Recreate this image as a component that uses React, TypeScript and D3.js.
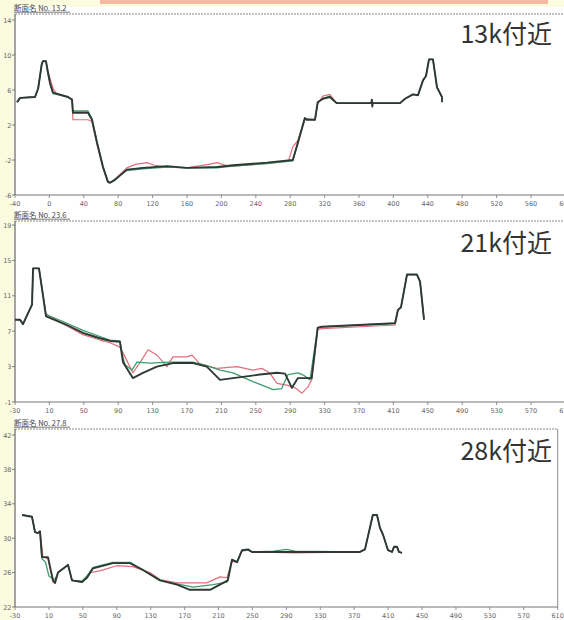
import React from 'react';
import * as d3 from 'd3';

type Pt = [number, number];

// ---------- Panel 1 : 13k ----------
const p1Header = '断面名 No.  13.2';
const p1Title = '13k付近';
const p1XTicks = [-40, 0, 40, 80, 120, 160, 200, 240, 280, 320, 360, 400, 440, 480, 520, 560, 600];
const p1YTicks = [-6, -2, 2, 6, 10, 14];
const p1Dark: Pt[] = [
  [-37.7, 4.6], [-34, 5.1], [-16.7, 5.2], [-13, 6.2], [-9, 8.9], [-7.5, 9.3], [-4, 9.3], [-2, 8.2], [0.7, 6.8], [4.2, 5.7],
  [21.6, 5.2], [26.3, 4.9], [27.4, 3.4], [44.9, 3.4], [49.5, 2.6], [55.3, 0], [62.3, -2.8], [68, -4.5],
  [70.5, -4.6], [76, -4.3], [90, -3.1], [108.8, -2.9], [136.7, -2.7], [160, -2.9], [194.9, -2.8],
  [213.5, -2.6], [253, -2.3], [283, -2.0], [288.8, -0.1], [297, 2.8], [299, 2.6], [308.8, 2.6],
  [312, 4.6], [318, 5.0], [326, 5.2], [334, 4.5], [374, 4.5], [375, 4.9], [375.5, 4.1], [376, 4.5],
  [407.7, 4.5], [413.5, 5.0], [422.8, 5.5], [428.6, 5.4], [434.4, 7.1], [437.9, 7.6], [441.4, 9.5],
  [446, 9.5], [450.7, 6.3], [456.5, 5.2], [456.5, 4.6],
];
const p1Green: Pt[] = [
  [-37.7, 4.6], [-34, 5.1], [-16.7, 5.2], [-13, 6.2], [-9, 8.9], [-7.5, 9.3], [-4, 9.3], [-2, 8.0], [1.5, 6.4], [4.2, 5.6],
  [21.6, 5.2], [26.3, 4.9], [27.4, 3.6], [44.9, 3.6], [49.5, 2.7], [55.3, 0.1], [62.3, -2.7], [68, -4.4],
  [70.5, -4.6], [76, -4.2], [90, -3.2], [108.8, -3.0], [136.7, -2.8], [160, -2.9], [194.9, -2.9],
  [213.5, -2.7], [253, -2.4], [283, -2.1], [288.8, 0], [297, 2.7], [308.8, 2.6],
  [312, 4.6], [318, 5.0], [326, 5.3], [334, 4.5], [407.7, 4.5], [413.5, 5.0], [422.8, 5.5], [428.6, 5.4],
  [434.4, 7.1], [437.9, 7.6], [441.4, 9.5], [446, 9.5], [450.7, 6.3], [456.5, 5.2],
];
const p1Red: Pt[] = [
  [-37.7, 4.6], [-34, 5.1], [-16.7, 5.2], [-13, 6.2], [-9, 8.9], [-7.5, 9.3], [-4, 9.3], [-2, 8.2], [2, 6.9], [4.2, 6.2], [8, 5.6],
  [21.6, 5.2], [26.3, 4.9], [27.4, 2.6], [44.9, 2.6], [49.5, 2.4], [55.3, -0.2], [62.3, -2.9], [68, -4.5],
  [70.5, -4.6], [76, -4.2], [90, -2.9], [100, -2.5], [113.5, -2.3], [122, -2.6], [136.7, -2.8], [160, -2.9],
  [185, -2.5], [195, -2.3], [205, -2.6], [213.5, -2.7], [253, -2.4], [278, -2.1], [283, -0.5], [288.8, 0.2], [297, 2.7],
  [308.8, 2.6], [312, 4.4], [318, 5.3], [326, 5.5], [334, 4.5], [407.7, 4.5], [413.5, 5.0], [422.8, 5.5],
  [428.6, 5.4], [434.4, 7.1], [437.9, 7.6], [441.4, 9.5], [446, 9.5], [450.7, 6.3], [456.5, 5.2],
];

// ---------- Panel 2 : 21k ----------
const p2Header = '断面名 No.  23.6';
const p2Title = '21k付近';
const p2XTicks = [-30, 10, 50, 90, 130, 170, 210, 250, 290, 330, 370, 410, 450, 490, 530, 570, 610];
const p2YTicks = [-1, 3, 7, 11, 15, 19];
const p2Dark: Pt[] = [
  [-30, 8.3], [-24.2, 8.3], [-20.7, 7.8], [-10.2, 10], [-9, 14.1], [-2.1, 14.1], [6, 8.7], [8.4, 8.6],
  [30.5, 7.7], [49, 6.8], [68.8, 6.2], [80.5, 5.9], [92, 5.8], [95.6, 3.5], [107, 1.7], [118.8, 2.3],
  [135, 3.0], [153.7, 3.4], [177, 3.4], [193, 3.0], [208.4, 1.5], [223.5, 1.7], [254.9, 2.1],
  [274.7, 2.3], [284, 2.2], [292, 0.6], [299, 1.7], [315, 1.7], [322, 7.4], [327, 7.5],
  [411.9, 7.9], [415.3, 9.4], [418.8, 9.7], [425.8, 13.4], [437.4, 13.4], [441, 12.6], [445.6, 8.3],
];
const p2Green: Pt[] = [
  [-30, 8.3], [-24.2, 8.3], [-20.7, 7.8], [-10.2, 10], [-9, 14.1], [-2.1, 14.1], [6, 8.9], [8.4, 8.8],
  [30.5, 7.9], [49, 7.1], [68.8, 6.4], [80.5, 6.0], [92, 5.9], [95.6, 4.0], [98, 3.2], [106, 2.6],
  [111.8, 3.5], [127, 3.4], [150, 3.5], [177, 3.5], [193, 3.1], [208.4, 2.6], [223.5, 2.3],
  [246.7, 1.3], [260, 0.8], [270, 0.4], [280, 0.5], [287.4, 2.1], [299, 2.3], [306, 2.0], [313, 1.5],
  [322, 7.4], [327, 7.5], [411.9, 7.9], [415.3, 9.4], [418.8, 9.7], [425.8, 13.4], [437.4, 13.4],
  [441, 12.6], [445.6, 8.3],
];
const p2Red: Pt[] = [
  [-30, 8.3], [-24.2, 8.3], [-20.7, 7.8], [-10.2, 10], [-9, 14.1], [-2.1, 14.1], [6, 9.0], [8.4, 8.8],
  [30.5, 7.6], [49, 6.6], [68.8, 6.0], [80.5, 5.7], [92, 5.2], [98, 4.1], [107, 2.3], [115, 3.4],
  [124.7, 4.9], [135, 4.3], [146.7, 3.0], [153.7, 4.1], [170, 4.1], [175.8, 4.3], [185, 3.3],
  [204.9, 2.8], [228, 3.0], [246.7, 2.6], [257, 2.8], [266, 2.3], [274.7, 1.1], [286, 0.9],
  [295.6, 0.6], [303.7, 0], [310.7, 0.7], [315, 1.5], [322, 7.2], [327, 7.3], [411.9, 7.7],
  [415.3, 9.4], [418.8, 9.7], [425.8, 13.4], [437.4, 13.4], [441, 12.6], [445.6, 8.3],
];

// ---------- Panel 3 : 28k ----------
const p3Header = '断面名 No.  27.8';
const p3Title = '28k付近';
const p3XTicks = [-30, 10, 50, 90, 130, 170, 210, 250, 290, 330, 370, 410, 450, 490, 530, 570, 610];
const p3YTicks = [22, 26, 30, 34, 38, 42];
const p3Dark: Pt[] = [
  [-21.7, 32.7], [-10, 32.5], [-6.4, 30.7], [-2.9, 30.6], [-0.5, 30.8], [1.8, 27.8], [8.9, 27.8],
  [11.3, 26.7], [14.8, 25.1], [17.2, 24.8], [20.7, 26], [31.3, 26.8], [32.5, 26.9], [37.2, 25.1],
  [49, 24.9], [54.9, 25.4], [62, 26.5], [85.6, 27.1], [105.6, 27.1], [121, 26.3], [141, 25.1],
  [161, 24.6], [176.4, 24], [200, 24], [211.7, 24.6], [221, 25.1], [225.9, 27.5], [231.8, 27.2],
  [237.7, 28.6], [244.8, 28.7], [249.5, 28.4], [376.8, 28.4], [382.7, 28.7], [392, 32.7],
  [396.9, 32.7], [400.4, 31.2], [404, 30.4], [409.9, 28.6], [414.6, 28.4], [417, 29], [420.5, 29],
  [422.8, 28.4], [426.4, 28.3],
];
const p3Green: Pt[] = [
  [-21.7, 32.7], [-10, 32.5], [-6.4, 30.7], [-2.9, 30.6], [-0.5, 30.8], [1.8, 27.6], [6, 27.2],
  [10, 25.6], [14.8, 25.3], [17.2, 25.2], [20.7, 26], [31.3, 26.8], [32.5, 26.9], [37.2, 25.1],
  [49, 25.0], [54.9, 25.6], [62, 26.6], [85.6, 27.2], [105.6, 27.2], [121, 26.3], [141, 25.1],
  [161, 24.7], [180, 24.3], [203.5, 24.6], [220, 24.9], [225.9, 27.5], [231.8, 27.3],
  [237.7, 28.6], [244.8, 28.6], [249.5, 28.4], [275, 28.5], [290, 28.7], [300, 28.5], [376.8, 28.4],
  [382.7, 28.7], [392, 32.7], [396.9, 32.7], [400.4, 31.2], [404, 30.4], [409.9, 28.6],
  [414.6, 28.4], [417, 29], [420.5, 29], [422.8, 28.4], [426.4, 28.3],
];
const p3Red: Pt[] = [
  [-21.7, 32.7], [-10, 32.5], [-6.4, 30.7], [-2.9, 30.6], [-0.5, 30.8], [3, 27.8], [8.9, 27.6],
  [12, 26.2], [14.8, 24.9], [17.2, 24.8], [20.7, 26], [31.3, 26.8], [32.5, 26.9], [37.2, 25.1],
  [49, 24.9], [58.4, 26], [70, 26.2], [90, 26.8], [109, 26.7], [129, 26], [141, 25.2],
  [161, 24.8], [180, 24.8], [196, 24.8], [211.7, 25.5], [220, 25.4], [225.9, 27.3], [231.8, 27.2],
  [237.7, 28.5], [244.8, 28.6], [249.5, 28.4], [300, 28.3], [376.8, 28.4], [382.7, 28.7], [392, 32.7],
  [396.9, 32.7], [400.4, 31.2], [404, 30.4], [409.9, 28.6], [414.6, 28.4], [417, 29], [420.5, 29],
  [422.8, 28.4], [426.4, 28.3],
];

const DARK = '#2f3934';
const GREEN = '#3f9c70';
const RED = '#e26d7c';

interface PanelCfg {
  header: string;
  title: string;
  xDomain: [number, number];
  xRange: [number, number];
  yDomain: [number, number];
  yRange: [number, number];
  frameTop: number;
  headerY: number;
  titleY: number;
  xTicks: number[];
  yTicks: number[];
  rightBorder?: boolean;
  dark: Pt[];
  green: Pt[];
  red: Pt[];
}

const panels: PanelCfg[] = [
  {
    header: p1Header, title: p1Title, xDomain: [-40, 600], xRange: [15, 565.4], yDomain: [-6, 14], yRange: [195, 20],
    frameTop: 14, headerY: 11, titleY: 43, xTicks: p1XTicks, yTicks: p1YTicks, dark: p1Dark, green: p1Green, red: p1Red,
  },
  {
    header: p2Header, title: p2Title, xDomain: [-30, 610], xRange: [15, 565.4], yDomain: [-1, 19], yRange: [402, 225],
    frameTop: 221, headerY: 218, titleY: 252, xTicks: p2XTicks, yTicks: p2YTicks, dark: p2Dark, green: p2Green, red: p2Red,
  },
  {
    header: p3Header, title: p3Title, xDomain: [-30, 610], xRange: [15, 557.7], yDomain: [22, 42], yRange: [607, 435],
    frameTop: 429, headerY: 426, titleY: 460, xTicks: p3XTicks, yTicks: p3YTicks, rightBorder: true, dark: p3Dark, green: p3Green, red: p3Red,
  },
];

function Panel({ cfg }: { cfg: PanelCfg }) {
  const x = d3.scaleLinear().domain(cfg.xDomain).range(cfg.xRange);
  const y = d3.scaleLinear().domain(cfg.yDomain).range(cfg.yRange);
  const line = d3.line<Pt>().x((d) => x(d[0])).y((d) => y(d[1]));
  const bottom = cfg.yRange[0];
  const left = cfg.xRange[0];
  const right = cfg.xRange[1];
  return (
    <g>
      <text x={14} y={cfg.headerY} fontSize={7.5} fill="#444" fontFamily="'Noto Sans CJK JP', sans-serif">{cfg.header}</text>
      <line x1={14} x2={70} y1={cfg.headerY + 1.2} y2={cfg.headerY + 1.2} stroke="#555" strokeWidth={0.8} />
      <line x1={left} x2={right} y1={cfg.frameTop} y2={cfg.frameTop} stroke="#8a8a8a" strokeWidth={1.2} strokeDasharray="2 1" />
      {cfg.rightBorder && (
        <line x1={right} x2={right} y1={cfg.frameTop} y2={bottom} stroke="#8a8a8a" strokeWidth={1} />
      )}
      <line x1={left} x2={left} y1={cfg.frameTop} y2={bottom} stroke="#666" strokeWidth={1.2} />
      <line x1={left} x2={right} y1={bottom} y2={bottom} stroke="#777" strokeWidth={1.2} />
      {cfg.yTicks.map((t) => (
        <g key={'y' + t}>
          <line x1={left - 3} x2={left} y1={y(t)} y2={y(t)} stroke="#666" strokeWidth={0.8} />
          <text x={left - 3.5} y={y(t) + 2.5} fontSize={6.5} textAnchor="end" fill="#666" fontFamily="'DejaVu Sans', sans-serif">{t}</text>
        </g>
      ))}
      {cfg.xTicks.map((t) => (
        <g key={'x' + t}>
          <line x1={x(t)} x2={x(t)} y1={bottom} y2={bottom + 3} stroke="#777" strokeWidth={0.8} />
          <text x={x(t)} y={bottom + 11} fontSize={6.5} textAnchor="middle" fill="#666" fontFamily="'DejaVu Sans', sans-serif">{t}</text>
        </g>
      ))}
      <path d={line(cfg.red) || ''} fill="none" stroke={RED} strokeWidth={1.2} strokeLinejoin="round" />
      <path d={line(cfg.green) || ''} fill="none" stroke={GREEN} strokeWidth={1.3} strokeLinejoin="round" />
      <path d={line(cfg.dark) || ''} fill="none" stroke={DARK} strokeWidth={1.9} strokeLinejoin="round" />
      <text x={552} y={cfg.titleY} fontSize={25} textAnchor="end" fill="#333" fontFamily="'Noto Sans CJK JP', sans-serif">{cfg.title}</text>
    </g>
  );
}

export default function App() {
  return (
    <div style={{ position: 'absolute', left: 0, top: 0, width: 564, height: 620 }}>
      <svg width={564} height={620} style={{ display: 'block' }}>
        <rect x={0} y={0} width={564} height={620} fill="#fbfbe0" />
        <rect x={100} y={0} width={448} height={4} fill="#f3b9a2" />
        <rect x={14} y={7} width={550} height={613} fill="#ffffff" />
        {panels.map((p, i) => (
          <Panel key={i} cfg={p} />
        ))}
      </svg>
    </div>
  );
}
